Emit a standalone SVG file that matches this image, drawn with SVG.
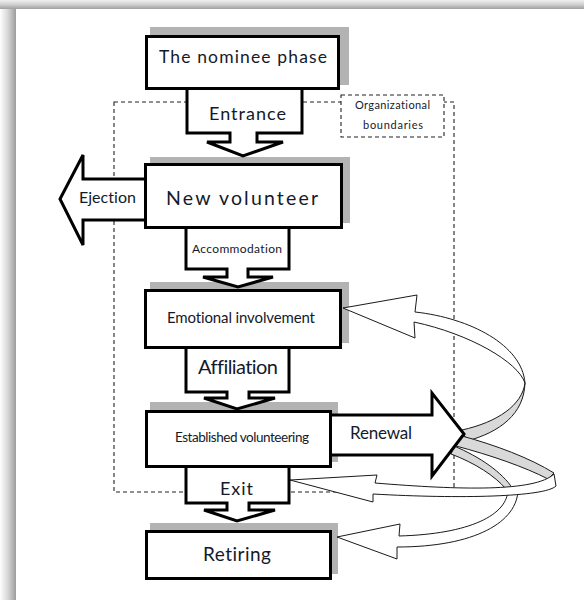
<svg xmlns="http://www.w3.org/2000/svg" width="584" height="600" viewBox="0 0 584 600">
  <defs>
    <linearGradient id="shadeLeft" x1="0" y1="0" x2="1" y2="0">
      <stop offset="0" stop-color="#ffffff"/>
      <stop offset="0.5" stop-color="#d6d6d6"/>
      <stop offset="1" stop-color="#9c9c9c"/>
    </linearGradient>
    <linearGradient id="shadeTop" x1="0" y1="0" x2="0" y2="1">
      <stop offset="0" stop-color="#f0f0f0"/>
      <stop offset="0.5" stop-color="#cfcfcf"/>
      <stop offset="1" stop-color="#a0a0a0"/>
    </linearGradient>
    <style>
      .box { fill: #ffffff; stroke: #000; stroke-width: 3; }
      .shadow { fill: #b3b3b3; }
      .bigarrow { fill: #ffffff; stroke: #000; stroke-width: 3; stroke-linejoin: miter; }
      .dash { fill: none; stroke: #222; stroke-width: 1.1; stroke-dasharray: 4 3; }
      .dashbox { fill: #ffffff; stroke: #222; stroke-width: 1.1; stroke-dasharray: 4 3; }
      .ribbon { fill: #ffffff; stroke: #1a1a1a; stroke-width: 1; stroke-linejoin: miter; }
      .ribbonback { fill: #d9d9d9; stroke: #1a1a1a; stroke-width: 1; }
      text { font-family: Lato, "Open Sans", "DejaVu Sans", sans-serif; fill: #141a2a; text-anchor: middle;
             font-variant-ligatures: none; font-feature-settings: "liga" 0, "dlig" 0; }
    </style>
  </defs>

  <!-- page with soft edge shading -->
  <rect x="0" y="0" width="584" height="600" fill="#ffffff"/>
  <rect x="0" y="0" width="16" height="600" fill="url(#shadeLeft)"/>
  <rect x="0" y="0" width="584" height="9" fill="url(#shadeTop)"/>
  <rect x="16" y="9" width="568" height="591" fill="#ffffff"/>

  <!-- organizational boundary -->
  <g id="boundary">
    <rect class="dash" x="114" y="102" width="340" height="390"/>
  </g>

  <!-- box shadows -->
  <g id="shadows">
    <rect class="shadow" x="150" y="27" width="199" height="58"/>
    <rect class="shadow" x="150" y="157" width="200" height="66"/>
    <rect class="shadow" x="150" y="282" width="199" height="61"/>
    <rect class="shadow" x="150" y="402" width="188" height="60"/>
    <rect class="shadow" x="150" y="523" width="188" height="51"/>
  </g>

  <g id="connectors">
    <!-- loop ribbons: back faces -->
    <path class="ribbonback" d="M525,383 C522,405 498,422 462,430 L467,441 C500,432 524,414 525,383 Z"/>
    <path class="ribbonback" d="M454,446 C480,457 502,472 513,489 L506,489 C495,476 475,463 451,454 Z"/>
    <path class="ribbonback" d="M554,473 C530,458 495,445 462,436 L456,446 C490,455 525,467 548,479 Z"/>
    <!-- loop ribbons: front faces with hollow heads -->
    <path class="ribbon" d="M337,537 L400,524 L399,536 C470,534 508,515 508,489 L518,489 C518,522 475,547 397,547 L397,559 Z"/>
    <path class="ribbon" d="M343,308 L417,295 L415,312 C470,318 522,345 525,383 C518,362 470,334 414,322 L415,338 Z"/>
    <path class="ribbon" d="M290,480 L377,475 L375,483 C460,490 535,492 554,474 L556,486 C545,497 460,499 373,494 L373,502 Z"/>

    <!-- block arrows -->
    <path id="entrance" class="bigarrow" d="M187,88 V133 H230 V142 H207 L243,156 L283,142 H257 V133 H302 V88"/>
    <path id="accommodation" class="bigarrow" d="M186,227 V269 H227 V277 H203 L238,287 L273,277 H248 V269 H289 V227"/>
    <path id="affiliation" class="bigarrow" d="M186,347 V392 H227 V398 H204 L237,409 L275,398 H249 V392 H289 V347"/>
    <path id="exit" class="bigarrow" d="M186,466 V503 H227 V510 H204 L237,521 L275,510 H249 V503 H289 V466"/>
    <path id="ejection" class="bigarrow" d="M146,179 H83 V155 L60,199 L83,245 V220 H146"/>
    <path id="renewal" class="bigarrow" d="M330,415 H432 V393 L464,434 L432,476 V455 H330"/>

    <text x="247.5" y="120" font-size="18" textLength="77" lengthAdjust="spacing">Entrance</text>
    <text x="237" y="253" font-size="12" textLength="90" lengthAdjust="spacing">Accommodation</text>
    <text x="238" y="374" font-size="20" textLength="80" lengthAdjust="spacing">Affiliation</text>
    <text x="236.5" y="495" font-size="18" textLength="33" lengthAdjust="spacing">Exit</text>
    <text x="107.5" y="203" font-size="16" textLength="57" lengthAdjust="spacing">Ejection</text>
    <text x="381" y="439" font-size="17" textLength="62" lengthAdjust="spacing">Renewal</text>
  </g>

  <g id="org-label">
    <rect class="dashbox" x="341" y="95" width="103" height="42"/>
    <text x="392.5" y="109" font-size="11" textLength="75" lengthAdjust="spacing">Organizational</text>
    <text x="393" y="129" font-size="11" textLength="60" lengthAdjust="spacing">boundaries</text>
  </g>

  <g id="nominee">
    <rect class="box" x="146.5" y="36.5" width="192" height="52"/>
    <text x="243" y="63" font-size="17.5" textLength="168" lengthAdjust="spacing">The nominee phase</text>
  </g>
  <g id="new-volunteer">
    <rect class="box" x="145.5" y="164.5" width="196" height="63"/>
    <text x="242" y="205" font-size="19.5" textLength="152" lengthAdjust="spacing">New volunteer</text>
  </g>
  <g id="emotional">
    <rect class="box" x="145.5" y="290.5" width="195" height="57"/>
    <text x="241" y="323" font-size="15" textLength="148" lengthAdjust="spacing">Emotional involvement</text>
  </g>
  <g id="established">
    <rect class="box" x="146.5" y="411.5" width="184" height="55"/>
    <text x="242" y="442" font-size="13.5" textLength="134" lengthAdjust="spacing">Established volunteering</text>
  </g>
  <g id="retiring">
    <rect class="box" x="146.5" y="531.5" width="184" height="47"/>
    <text x="237" y="561" font-size="19" textLength="68" lengthAdjust="spacing">Retiring</text>
  </g>
</svg>
